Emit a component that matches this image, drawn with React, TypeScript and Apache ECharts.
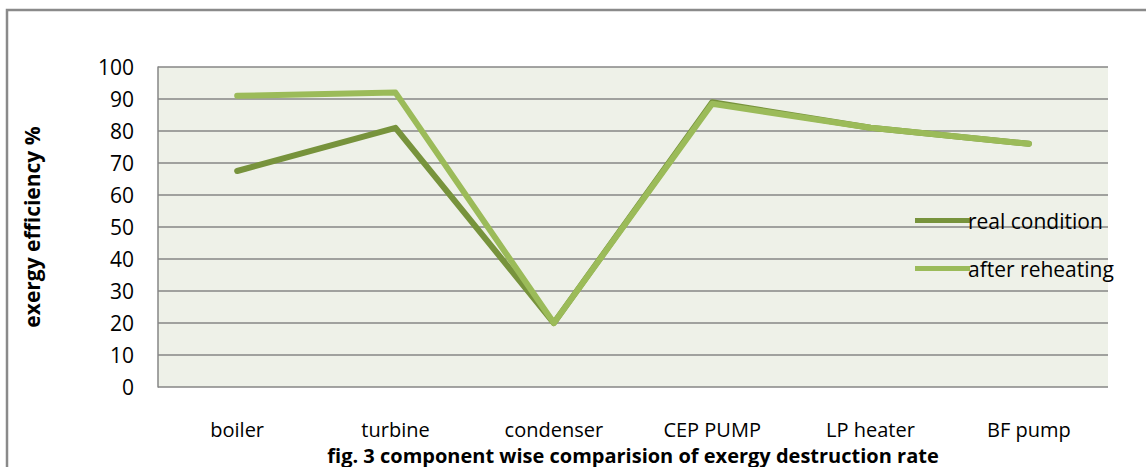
import React, { useEffect, useRef } from "react";
import * as echarts from "echarts";

const categories = ["boiler", "turbine", "condenser", "CEP PUMP", "LP heater", "BF pump"];
const realCondition = [67.5, 81, 20, 89, 81, 76];
const afterReheating = [91, 92, 20, 88.5, 81, 76];
const yTicks = { min: 0, max: 100, interval: 10 };

const FONT = "'Open Sans', Lato, sans-serif";

export default function App() {
  const ref = useRef<HTMLDivElement>(null);
  useEffect(() => {
    if (!ref.current) return;
    const chart = echarts.init(ref.current, undefined, { renderer: "svg" });
    chart.setOption({
      animation: false,
      backgroundColor: "#ffffff",
      textStyle: { fontFamily: FONT },
      grid: {
        left: 158,
        right: 38,
        top: 67,
        bottom: 80,
        show: true,
        backgroundColor: "#EEF1E8",
        borderWidth: 0,
        containLabel: false,
        outerBoundsMode: "none",
      },
      legend: {
        orient: "vertical",
        left: 910,
        top: 205,
        itemGap: 27,
        itemWidth: 55,
        itemHeight: 5,
        icon: "rect",
        textStyle: { fontFamily: FONT, fontSize: 21, color: "#000", padding: [0, 0, 0, -7] },
        data: ["real condition", "after reheating"],
      },
      xAxis: {
        type: "category",
        data: categories,
        boundaryGap: true,
        axisLine: { show: false },
        axisTick: { show: false },
        axisLabel: { margin: 32, fontSize: 20, color: "#000", fontFamily: FONT },
        name: "fig. 3 component wise comparision of exergy destruction rate",
        nameLocation: "middle",
        nameGap: 57,
        nameTextStyle: { fontSize: 20, lineHeight: 22, fontWeight: "bold", color: "#000", fontFamily: FONT },
      },
      yAxis: {
        type: "value",
        min: yTicks.min,
        max: yTicks.max,
        interval: yTicks.interval,
        axisLine: { show: true, lineStyle: { color: "#868686", width: 1.5 } },
        axisTick: { show: false },
        splitLine: { show: true, lineStyle: { color: "#868686", width: 1.5 } },
        axisLabel: { margin: 24, fontSize: 21, color: "#000", fontFamily: FONT },
        name: "exergy efficiency %",
        nameLocation: "middle",
        nameGap: 116,
        nameTextStyle: { fontSize: 21, fontWeight: "bold", color: "#000", fontFamily: FONT },
      },
      series: [
        {
          name: "real condition",
          type: "line",
          data: realCondition,
          showSymbol: false,
          symbol: "none",
          z: 2,
          color: "#77933C",
          lineStyle: { width: 6, color: "#77933C", cap: "round", join: "round" },
        },
        {
          name: "after reheating",
          type: "line",
          data: afterReheating,
          showSymbol: false,
          symbol: "none",
          z: 3,
          color: "#9BBB59",
          lineStyle: { width: 6, color: "#9BBB59", cap: "round", join: "round" },
        },
      ],
      graphic: [
        {
          type: "polyline",
          shape: { points: [[7, 467], [7, 10], [1146, 10]] },
          style: { stroke: "#8A8A8A", lineWidth: 2.5, fill: "none" },
          z: 10,
        },
      ],
    });
    return () => chart.dispose();
  }, []);
  return (
    <div
      ref={ref}
      style={{ position: "fixed", left: 0, top: 0, width: 1146, height: 467 }}
    />
  );
}
